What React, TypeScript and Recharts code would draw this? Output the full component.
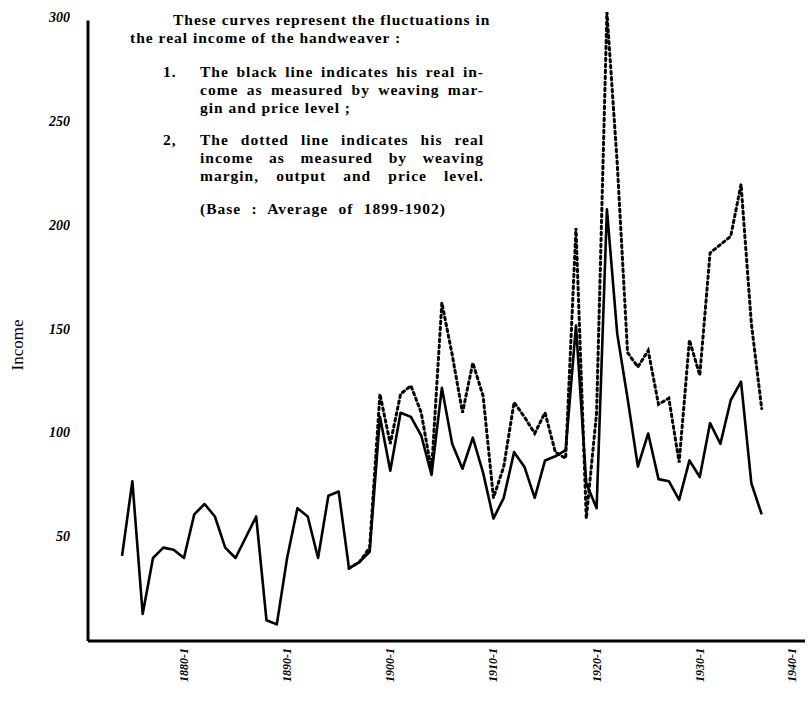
import React from 'react';
import { LineChart, Line, XAxis, YAxis, ReferenceLine } from 'recharts';

// fiscal years 1874-5 .. 1936-7
const years = [
  1874, 1875, 1876, 1877, 1878, 1879, 1880, 1881, 1882, 1883,
  1884, 1885, 1886, 1887, 1888, 1889, 1890, 1891, 1892, 1893,
  1894, 1895, 1896, 1897, 1898, 1899, 1900, 1901, 1902, 1903,
  1904, 1905, 1906, 1907, 1908, 1909, 1910, 1911, 1912, 1913,
  1914, 1915, 1916, 1917, 1918, 1919, 1920, 1921, 1922, 1923,
  1924, 1925, 1926, 1927, 1928, 1929, 1930, 1931, 1932, 1933,
  1934, 1935, 1936,
];

// black line: margin and price level
const marginPrice = [
  41, 77, 13, 40, 45, 44, 40, 61, 66, 60,
  45, 40, 50, 60, 10, 8, 40, 64, 60, 40,
  70, 72, 35, 38, 43, 108, 82, 110, 108, 99,
  80, 122, 95, 83, 98, 81, 59, 69, 91, 84,
  69, 87, 89, 92, 152, 76, 64, 208, 148, 117,
  84, 100, 78, 77, 68, 87, 79, 105, 95, 116,
  125, 76, 61,
];

// dotted line: margin, output and price level (starts 1896)
const marginOutputPrice = [
  null, null, null, null, null, null, null, null, null, null,
  null, null, null, null, null, null, null, null, null, null,
  null, null, 35, 38, 45, 119, 95, 119, 123, 110,
  82, 163, 138, 110, 134, 118, 69, 84, 115, 108,
  100, 110, 91, 88, 199, 59, 110, 303, 230, 139,
  132, 140, 114, 117, 86, 145, 128, 187, 191, 195,
  220, 153, 112,
];

const yTicks = [50, 100, 150, 200, 250, 300];
const xTicks = [1880, 1890, 1900, 1910, 1920, 1930, 1940];

const data = years.map((year, i) => ({
  year,
  solid: marginPrice[i],
  dotted: marginOutputPrice[i],
}));

const X_DOMAIN: [number, number] = [1870.7, 1940.2];

const serif = '"Liberation Serif", "Times New Roman", serif';

function YTick({ x, y, payload }: any) {
  return (
    <text x={x - 18} y={y} dy={4} textAnchor="end" fontFamily={serif}
      fontStyle="italic" fontWeight="bold" fontSize={14} fill="#000">
      {payload.value}
    </text>
  );
}

function XTick({ x, y, payload }: any) {
  return (
    <text transform={`translate(${x},${y + 7}) rotate(-90)`} dy={4} textAnchor="end"
      fontFamily={serif} fontStyle="italic" fontWeight="bold" fontSize={12} fill="#000">
      {`${payload.value}-1`}
    </text>
  );
}

const textBase: React.CSSProperties = {
  position: 'absolute',
  fontFamily: serif,
  fontWeight: 'bold',
  fontSize: 15.5,
  letterSpacing: 1,
  lineHeight: '18px',
  color: '#000',
  whiteSpace: 'nowrap',
};

function Note({ left, top, width, justify, children }: any) {
  return (
    <div style={{
      ...textBase,
      left,
      top: top - 9,
      width,
      textAlign: justify ? 'justify' : 'left',
      textAlignLast: justify ? 'justify' : 'left',
      whiteSpace: justify ? 'normal' : 'nowrap',
    } as React.CSSProperties}>
      {children}
    </div>
  );
}

export default function App() {
  return (
    <div style={{ position: 'absolute', left: 0, top: 0, width: 808, height: 706, background: '#fff' }}>
      <LineChart width={808} height={706} data={data}
        margin={{ top: 8, right: 3, bottom: 5, left: 0 }}>
        <XAxis dataKey="year" type="number" domain={X_DOMAIN} ticks={xTicks}
          allowDecimals={false} height={60} tickSize={0} tickMargin={0}
          axisLine={{ stroke: '#000', strokeWidth: 3 }} tickLine={false} tick={<XTick />} />
        <YAxis type="number" domain={[0, 305]} ticks={yTicks} width={88}
          tickSize={0} tickMargin={0} axisLine={false} tickLine={false} tick={<YTick />} />
        <ReferenceLine segment={[{ x: X_DOMAIN[0], y: 0 }, { x: X_DOMAIN[0], y: 299 }]}
          stroke="#000" strokeWidth={3} />
        <Line type="linear" dataKey="solid" stroke="#000" strokeWidth={2.6} dot={false}
          strokeLinejoin="round" isAnimationActive={false} />
        <Line type="linear" dataKey="dotted" stroke="#000" strokeWidth={3} dot={false}
          strokeDasharray="2.5 3.5" strokeLinecap="round" connectNulls={false}
          isAnimationActive={false} />
      </LineChart>

      <div style={{
        position: 'absolute', left: 18, top: 345, fontFamily: serif, fontSize: 17,
        color: '#000', transform: 'translate(-50%, -50%) rotate(-90deg)', whiteSpace: 'nowrap',
      }}>
        Income
      </div>

      <Note left={173} top={20}>These curves represent the fluctuations in</Note>
      <Note left={130} top={38}>the real income of the handweaver :</Note>
      <Note left={163} top={72}>1.</Note>
      <Note left={200} top={72} width={284} justify>The black line indicates his real in-</Note>
      <Note left={200} top={90} width={284} justify>come as measured by weaving mar-</Note>
      <Note left={200} top={108}>gin and price level ;</Note>
      <Note left={163} top={140}>2,</Note>
      <Note left={200} top={140} width={284} justify>The dotted line indicates his real</Note>
      <Note left={200} top={158} width={284} justify>income as measured by weaving</Note>
      <Note left={200} top={176} width={284} justify>margin, output and price level.</Note>
      <Note left={200} top={209} width={246} justify>(Base : Average of 1899-1902)</Note>
    </div>
  );
}
